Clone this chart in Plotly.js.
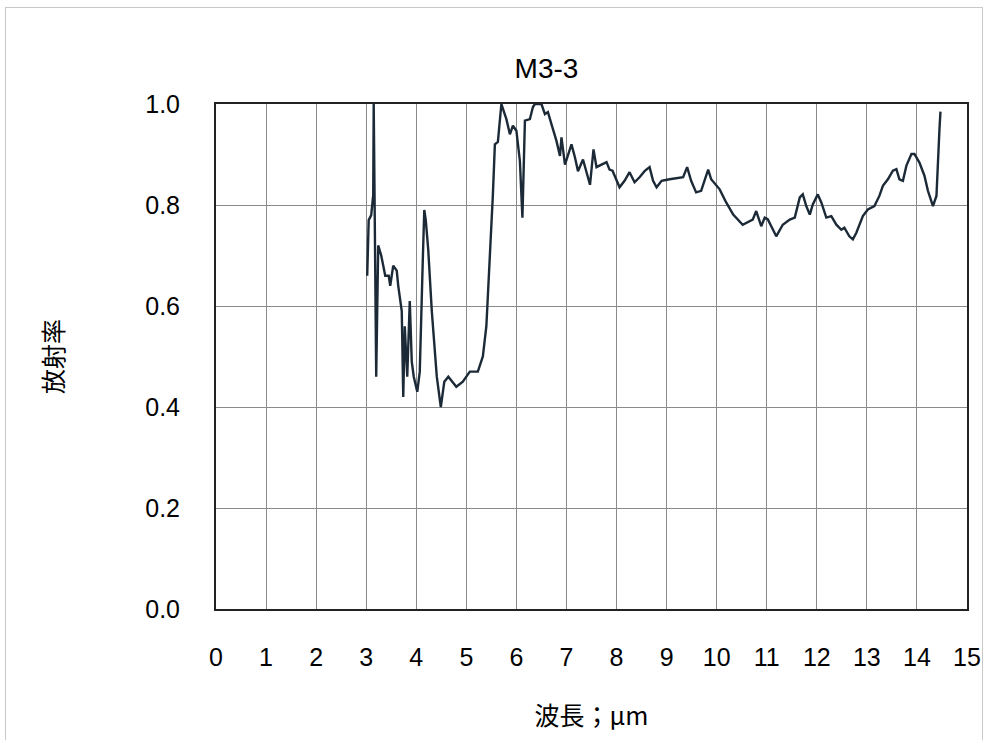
<!DOCTYPE html>
<html>
<head>
<meta charset="utf-8">
<script src="https://cdn.plot.ly/plotly-3.0.1.min.js"></script>
<style>
html,body{margin:0;padding:0;background:#fff;}
#wrap{position:relative;width:990px;height:740px;}
#frame{position:absolute;left:5px;top:7px;width:978px;height:740px;border:1.5px solid #c8c8c8;border-bottom:none;box-sizing:border-box;pointer-events:none;}
#chart{position:absolute;left:0;top:0;width:990px;height:740px;}
</style>
</head>
<body>
<div id="wrap"><div id="chart"></div><div id="frame"></div></div>
<script>
const wavelength = [3.02,3.05,3.10,3.14,3.15,3.20,3.24,3.30,3.34,3.38,3.45,3.48,3.54,3.61,3.64,3.71,3.74,3.77,3.82,3.87,3.91,3.95,4.02,4.07,4.13,4.16,4.19,4.24,4.31,4.36,4.41,4.49,4.56,4.64,4.72,4.80,4.93,5.07,5.23,5.33,5.40,5.47,5.53,5.57,5.63,5.70,5.80,5.87,5.93,6.00,6.07,6.12,6.17,6.27,6.33,6.37,6.50,6.57,6.63,6.70,6.80,6.87,6.90,6.97,7.03,7.10,7.17,7.23,7.33,7.40,7.47,7.54,7.60,7.70,7.80,7.86,7.92,8.06,8.16,8.26,8.36,8.46,8.56,8.66,8.73,8.80,8.90,9.06,9.33,9.41,9.49,9.59,9.69,9.83,9.89,10.06,10.19,10.33,10.52,10.72,10.79,10.89,10.96,11.02,11.09,11.19,11.32,11.46,11.56,11.66,11.72,11.79,11.86,11.92,12.02,12.09,12.19,12.29,12.39,12.49,12.55,12.65,12.72,12.79,12.92,13.02,13.15,13.25,13.32,13.42,13.52,13.59,13.65,13.72,13.79,13.89,13.95,14.05,14.15,14.22,14.32,14.39,14.45,14.47];
const emissivity = [0.66,0.77,0.78,0.82,1.00,0.46,0.72,0.70,0.68,0.66,0.66,0.64,0.68,0.67,0.64,0.59,0.42,0.56,0.46,0.61,0.49,0.46,0.43,0.47,0.69,0.79,0.77,0.71,0.59,0.53,0.46,0.40,0.45,0.46,0.45,0.44,0.45,0.47,0.47,0.50,0.56,0.69,0.82,0.92,0.925,1.00,0.97,0.94,0.957,0.947,0.887,0.775,0.967,0.97,0.994,1.00,1.00,0.98,0.984,0.96,0.927,0.897,0.934,0.88,0.90,0.92,0.894,0.867,0.89,0.867,0.84,0.91,0.875,0.88,0.885,0.87,0.868,0.835,0.848,0.865,0.845,0.855,0.867,0.875,0.848,0.835,0.848,0.851,0.855,0.875,0.848,0.825,0.828,0.87,0.851,0.831,0.805,0.781,0.761,0.771,0.788,0.758,0.775,0.772,0.758,0.738,0.761,0.771,0.775,0.815,0.821,0.798,0.781,0.801,0.821,0.805,0.775,0.778,0.761,0.751,0.755,0.738,0.732,0.745,0.778,0.791,0.798,0.818,0.838,0.851,0.868,0.871,0.851,0.848,0.878,0.901,0.901,0.884,0.858,0.828,0.798,0.818,0.95,0.985];
const xTickVals = [0,1,2,3,4,5,6,7,8,9,10,11,12,13,14,15];
const xTickText = ["0","1","2","3","4","5","6","7","8","9","10","11","12","13","14","15"];
const yTickVals = [0,0.2,0.4,0.6,0.8,1.0];
const yTickText = ["0.0","0.2","0.4","0.6","0.8","1.0"];

const FONT = "Liberation Sans, Arial, sans-serif";
const CJK = "Noto Sans CJK JP, Liberation Sans, sans-serif";

Plotly.newPlot('chart', [{
  x: wavelength, y: emissivity, type: 'scatter', mode: 'lines',
  line: {color: '#1c2a38', width: 2.4}, hoverinfo: 'skip'
}], {
  width: 990, height: 740,
  margin: {l: 216, r: 23, t: 104, b: 131},
  paper_bgcolor: '#fff', plot_bgcolor: '#fff',
  showlegend: false,
  title: {text: 'M3-3', x: 0.552, xanchor: 'center', y: 0.908, yanchor: 'middle',
          font: {family: FONT, size: 28, color: '#000'}},
  xaxis: {range: [0, 15], tickvals: xTickVals, ticktext: xTickText,
          showgrid: true, gridcolor: '#8a8a8a', gridwidth: 1,
          showline: true, linecolor: '#222', linewidth: 2, mirror: true,
          ticks: '', zeroline: false, ticklabelstandoff: 25,
          tickfont: {family: FONT, size: 25, color: '#000'},
          title: {text: '波長；μm', standoff: 37, font: {family: CJK, size: 25, color: '#000'}}},
  yaxis: {range: [0, 1], tickvals: yTickVals, ticktext: yTickText,
          showgrid: true, gridcolor: '#8a8a8a', gridwidth: 1,
          showline: true, linecolor: '#222', linewidth: 2, mirror: true,
          ticks: '', zeroline: false, ticklabelstandoff: 29,
          tickfont: {family: FONT, size: 25, color: '#000'},
          title: {text: '放射率', standoff: 74, font: {family: CJK, size: 25, color: '#000'}}}
}, {staticPlot: true});
</script>
</body>
</html>
